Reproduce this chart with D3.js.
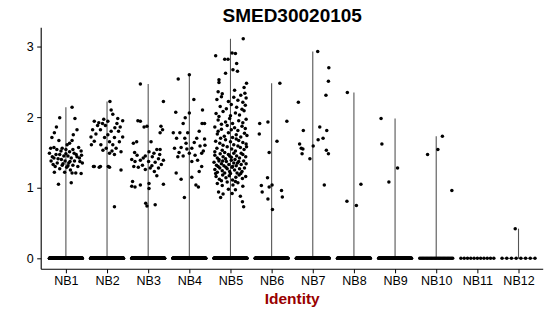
<!DOCTYPE html>
<html><head><meta charset="utf-8">
<script src="https://cdn.jsdelivr.net/npm/d3@7"></script>
<style>body{margin:0;background:#fff}text{font-family:"Liberation Sans",Arial,sans-serif}</style>
</head><body>
<svg id="chart" width="550" height="316"></svg>
<script>
const title = "SMED30020105";
const xTitle = "Identity";
const categories = ["NB1","NB2","NB3","NB4","NB5","NB6","NB7","NB8","NB9","NB10","NB11","NB12"];
const yTicks = [0, 1, 2, 3];
// number of cells with zero expression per identity
const zeroCounts = [300, 300, 300, 300, 300, 220, 220, 200, 160, 26, 11, 8];
// non-zero cells: [jitter offset (category units), expression]
const nb1Points = [[0.15,2.14],[-0.15,1.99],[0.22,1.98],[-0.23,1.86],[0.27,1.82],[-0.28,1.78],[0.18,1.75],[-0.34,1.71],[-0.17,1.67],[0.15,1.67],[0.09,1.63],[0.03,1.61],[-0.29,1.57],[-0.37,1.56],[-0.09,1.56],[0.31,1.57],[-0.22,1.54],[0.00,1.54],[0.17,1.54],[0.09,1.51],[0.37,1.52],[-0.40,1.49],[-0.15,1.47],[0.25,1.47],[-0.05,1.45],[0.05,1.45],[-0.29,1.42],[0.13,1.42],[-0.11,1.40],[0.33,1.42],[-0.36,1.38],[-0.02,1.38],[0.21,1.38],[-0.21,1.35],[0.07,1.35],[0.40,1.35],[-0.09,1.32],[0.17,1.32],[-0.26,1.30],[0.29,1.30],[0.02,1.29],[-0.15,1.27],[0.11,1.25],[-0.28,1.22],[-0.03,1.22],[0.15,1.21],[0.24,1.21],[0.37,1.20],[-0.18,1.05],[0.13,1.07],[-0.33,1.44],[-0.19,1.41],[0.00,1.48],[0.10,1.37],[0.27,1.44],[-0.07,1.34],[0.34,1.37],[-0.24,1.47],[0.05,1.31],[-0.12,1.52],[0.20,1.49],[-0.31,1.33],[0.38,1.46]];
const nb2Points = [[0.07,2.22],[0.10,2.10],[0.14,2.04],[-0.31,1.94],[-0.11,1.91],[0.02,1.94],[0.24,1.91],[0.38,1.95],[-0.23,1.88],[-0.04,1.88],[0.19,1.85],[0.32,1.86],[-0.35,1.82],[-0.16,1.82],[0.10,1.80],[0.28,1.80],[-0.27,1.76],[0.02,1.75],[-0.39,1.72],[-0.06,1.71],[0.18,1.71],[0.38,1.72],[-0.31,1.66],[0.06,1.65],[0.30,1.65],[-0.15,1.61],[0.14,1.61],[-0.38,1.61],[-0.02,1.56],[0.22,1.56],[0.34,1.51],[0.06,1.49],[0.18,1.47],[-0.31,1.30],[-0.16,1.30],[0.06,1.29],[0.34,1.25],[0.18,0.73],[-0.33,1.30],[-0.19,1.29],[0.03,1.30],[-0.08,1.97],[0.26,1.98],[-0.20,1.92],[0.12,1.52],[-0.10,1.53]];
const nb3Points = [[-0.19,2.47],[0.37,2.22],[-0.25,1.95],[-0.19,1.94],[-0.03,1.87],[-0.10,1.86],[0.31,1.87],[0.29,1.78],[0.35,1.82],[-0.28,1.65],[-0.36,1.63],[0.07,1.65],[0.21,1.54],[0.29,1.54],[-0.33,1.50],[0.14,1.49],[0.02,1.51],[-0.07,1.45],[-0.40,1.40],[-0.19,1.39],[0.25,1.41],[0.37,1.39],[-0.32,1.37],[0.01,1.37],[0.17,1.36],[-0.14,1.32],[0.09,1.31],[-0.24,1.29],[0.25,1.28],[-0.07,1.26],[0.15,1.23],[0.21,1.17],[-0.38,1.09],[-0.19,1.04],[-0.40,1.02],[-0.32,1.01],[0.02,1.06],[0.37,1.05],[0.02,0.99],[-0.06,0.78],[-0.03,0.74],[0.17,0.76],[0.10,1.44],[-0.27,1.46],[0.32,1.33],[-0.12,1.42],[0.05,1.28],[0.28,1.47],[-0.35,1.30]];
const nb4Points = [[-0.27,2.54],[0.00,2.60],[0.11,2.25],[-0.33,2.07],[0.32,2.10],[-0.10,1.99],[0.00,2.06],[-0.15,1.91],[0.31,1.91],[0.37,1.91],[-0.39,1.78],[-0.23,1.78],[-0.04,1.78],[0.24,1.80],[-0.31,1.70],[-0.11,1.70],[0.18,1.70],[0.37,1.69],[-0.36,1.56],[-0.20,1.57],[-0.06,1.55],[0.06,1.56],[0.26,1.59],[0.38,1.60],[-0.28,1.44],[-0.15,1.45],[0.00,1.49],[0.14,1.46],[0.30,1.49],[0.20,1.39],[0.06,1.37],[0.30,1.30],[0.24,1.23],[-0.20,1.12],[0.06,1.15],[0.16,1.04],[0.22,1.01],[-0.12,0.86],[-0.32,1.21],[-0.08,1.63],[0.12,1.64],[0.34,1.52],[-0.25,1.50]];
const nb5Points = [[0.31,3.11],[-0.36,2.87],[-0.14,2.82],[-0.06,2.82],[0.04,2.91],[0.12,2.90],[0.15,2.76],[-0.12,2.62],[0.06,2.67],[0.17,2.65],[-0.28,2.53],[-0.28,2.49],[0.39,2.48],[0.33,2.42],
[-0.30,2.36],[-0.20,2.33],[0.10,2.38],[0.25,2.31],[0.35,2.34],[0.38,2.27],
[-0.33,2.25],[-0.05,2.22],[0.08,2.28],[0.18,2.24],[0.30,2.21],[-0.22,2.29],
[-0.25,2.15],[-0.10,2.12],[0.02,2.18],[0.15,2.14],[0.28,2.11],[0.36,2.17],
[-0.35,2.05],[-0.18,2.08],[0.00,2.02],[0.12,2.06],[0.22,2.03],[0.33,2.09],[-0.28,2.01],
[-0.30,1.96],[-0.12,1.93],[-0.02,1.98],[0.05,1.91],[0.20,1.95],[0.30,1.92],[0.38,1.97],[-0.22,1.90],
[-0.38,1.86],[-0.22,1.83],[-0.08,1.88],[0.10,1.85],[0.18,1.81],[0.28,1.87],[0.36,1.84],[-0.30,1.80],[0.02,1.82],
[-0.32,1.76],[-0.15,1.73],[-0.05,1.78],[0.05,1.71],[0.14,1.75],[0.25,1.72],[0.34,1.77],[-0.24,1.70],[0.40,1.74],
[-0.36,1.66],[-0.26,1.63],[-0.12,1.68],[0.00,1.65],[0.08,1.61],[0.20,1.67],[0.30,1.64],[0.38,1.62],[-0.18,1.60],[0.14,1.69],
[-0.33,1.56],[-0.20,1.53],[-0.08,1.58],[0.03,1.55],[0.12,1.52],[0.24,1.57],[0.33,1.54],[-0.38,1.51],[-0.14,1.50],[0.18,1.59],[0.39,1.58],
[-0.38,1.46],[-0.32,1.42],[-0.25,1.48],[-0.18,1.44],[-0.12,1.41],[-0.05,1.47],[0.02,1.43],[0.08,1.49],[0.15,1.45],[0.22,1.42],[0.30,1.47],[0.37,1.44],[-0.28,1.40],[0.11,1.40],[-0.02,1.45],[0.26,1.49],
[-0.40,1.36],[-0.34,1.32],[-0.28,1.38],[-0.22,1.34],[-0.16,1.31],[-0.10,1.37],[-0.04,1.33],[0.02,1.39],[0.08,1.35],[0.14,1.31],[0.20,1.37],[0.26,1.33],[0.32,1.38],[0.38,1.34],[-0.30,1.30],[0.05,1.30],[-0.19,1.38],[0.17,1.35],
[-0.38,1.26],[-0.32,1.22],[-0.26,1.28],[-0.20,1.24],[-0.14,1.21],[-0.08,1.27],[-0.02,1.23],[0.04,1.29],[0.10,1.25],[0.16,1.21],[0.22,1.27],[0.28,1.23],[0.34,1.28],[-0.36,1.20],[0.00,1.20],[0.25,1.20],[-0.11,1.29],
[-0.35,1.16],[-0.27,1.12],[-0.19,1.18],[-0.11,1.14],[-0.03,1.17],[0.05,1.11],[0.13,1.15],[0.21,1.18],[0.29,1.13],[0.37,1.16],[-0.22,1.10],
[-0.32,1.06],[-0.20,1.03],[-0.08,1.08],[0.06,1.04],[0.18,1.07],[0.30,1.02],[0.12,1.09],
[-0.29,0.94],[-0.18,0.91],[0.04,0.92],[0.12,0.97],[0.24,0.88],[-0.05,0.98],
[0.29,0.80],[0.32,0.73],[-0.24,0.86]];
const nb6Points = [[0.20,2.48],[-0.29,1.91],[-0.09,1.93],[0.37,1.94],[-0.30,1.76],[0.13,1.66],[-0.06,1.50],[-0.10,1.14],[-0.25,1.03],[-0.06,1.01],[0.01,1.04],[-0.23,0.94],[0.24,0.96],[0.26,0.87],[-0.09,0.84],[0.02,0.69]];
const nb7Points = [[0.12,2.93],[0.39,2.70],[0.38,2.51],[0.32,2.31],[-0.35,2.21],[-0.23,1.81],[0.17,1.86],[0.34,1.81],[0.13,1.68],[0.25,1.70],[-0.32,1.62],[-0.28,1.56],[-0.24,1.55],[0.01,1.59],[-0.26,1.48],[0.33,1.53],[0.38,1.48],[-0.07,1.41],[0.28,1.04]];
const nb8Points = [[-0.16,2.35],[0.17,1.05],[-0.17,0.81],[0.06,0.75]];
const nb9Points = [[-0.34,1.98],[-0.32,1.62],[0.06,1.28],[-0.15,1.08]];
const nb10Points = [[0.15,1.73],[0.04,1.54],[-0.21,1.47],[0.38,0.96]];
const nb11Points = [];
const nb12Points = [[-0.08,0.42]];
const pointsByGroup = [nb1Points,nb2Points,nb3Points,nb4Points,nb5Points,nb6Points,nb7Points,nb8Points,nb9Points,nb10Points,nb11Points,nb12Points];

const svg = d3.select("#chart");
const pLeft = 41.2, pRight = 543.2, pTop = 27.8, pBottom = 269.3;
const allVals = pointsByGroup.flat().map(d => d[1]).concat([0]);
const yMin = d3.min(allVals), yMax = d3.max(allVals);
const pad = (yMax - yMin) * 0.05;
const x = d3.scalePoint().domain(categories).range([pLeft, pRight]).padding(0.6);
const step = x.step();
const y = d3.scaleLinear().domain([yMin - pad, yMax + pad]).range([pBottom, pTop]);

// violins (very thin: mostly zeros)
const violins = svg.append("g");
categories.forEach((c, i) => {
  const m = d3.max(pointsByGroup[i], d => d[1]) || 0;
  violins.append("line").attr("x1", x(c) - 0.42*step).attr("x2", x(c) + 0.42*step)
    .attr("y1", y(0)).attr("y2", y(0)).attr("stroke", "#666").attr("stroke-width", 1);
  if (m > 0) violins.append("line").attr("x1", x(c)).attr("x2", x(c))
    .attr("y1", y(0)).attr("y2", y(m)).attr("stroke", "#555").attr("stroke-width", 1.1);
});

// points
const pts = svg.append("g").attr("fill", "#000");
categories.forEach((c, i) => {
  const n = zeroCounts[i];
  const zeros = d3.range(n).map(k => [n > 1 ? -0.4 + 0.8 * k / (n - 1) : 0, 0]);
  zeros.concat(pointsByGroup[i]).forEach(d => {
    pts.append("circle").attr("cx", x(c) + d[0]*step).attr("cy", y(d[1])).attr("r", 1.75);
  });
});

// axes
const yAxis = svg.append("g").attr("transform", `translate(${pLeft},0)`)
  .call(d3.axisLeft(y).tickValues(yTicks).tickFormat(d3.format("d")).tickSize(4).tickSizeOuter(0).tickPadding(3.5));
const xAxis = svg.append("g").attr("transform", `translate(0,${pBottom})`)
  .call(d3.axisBottom(x).tickSize(4).tickSizeOuter(0).tickPadding(3.2));
[yAxis, xAxis].forEach(a => {
  a.select(".domain").attr("stroke", "#000").attr("stroke-width", 1.1);
  a.selectAll(".tick line").attr("stroke", "#000").attr("stroke-width", 1);
  a.selectAll(".tick text").attr("fill", "#000").style("font-size", "12.5px").style("font-family", '"Liberation Sans",Arial,sans-serif');
});
yAxis.select(".domain").attr("d", `M0,${pBottom}V${pTop}`);
xAxis.select(".domain").attr("d", `M${pLeft},0H${pRight}`);

svg.append("text").attr("x", (pLeft + pRight) / 2).attr("y", 22).attr("text-anchor", "middle")
  .style("font-size", "19px").style("font-weight", "bold").attr("fill", "#000").text(title);
svg.append("text").attr("x", (pLeft + pRight) / 2).attr("y", 304).attr("text-anchor", "middle")
  .style("font-size", "15.5px").style("font-weight", "bold").attr("fill", "#990000").text(xTitle);
</script>
</body></html>
